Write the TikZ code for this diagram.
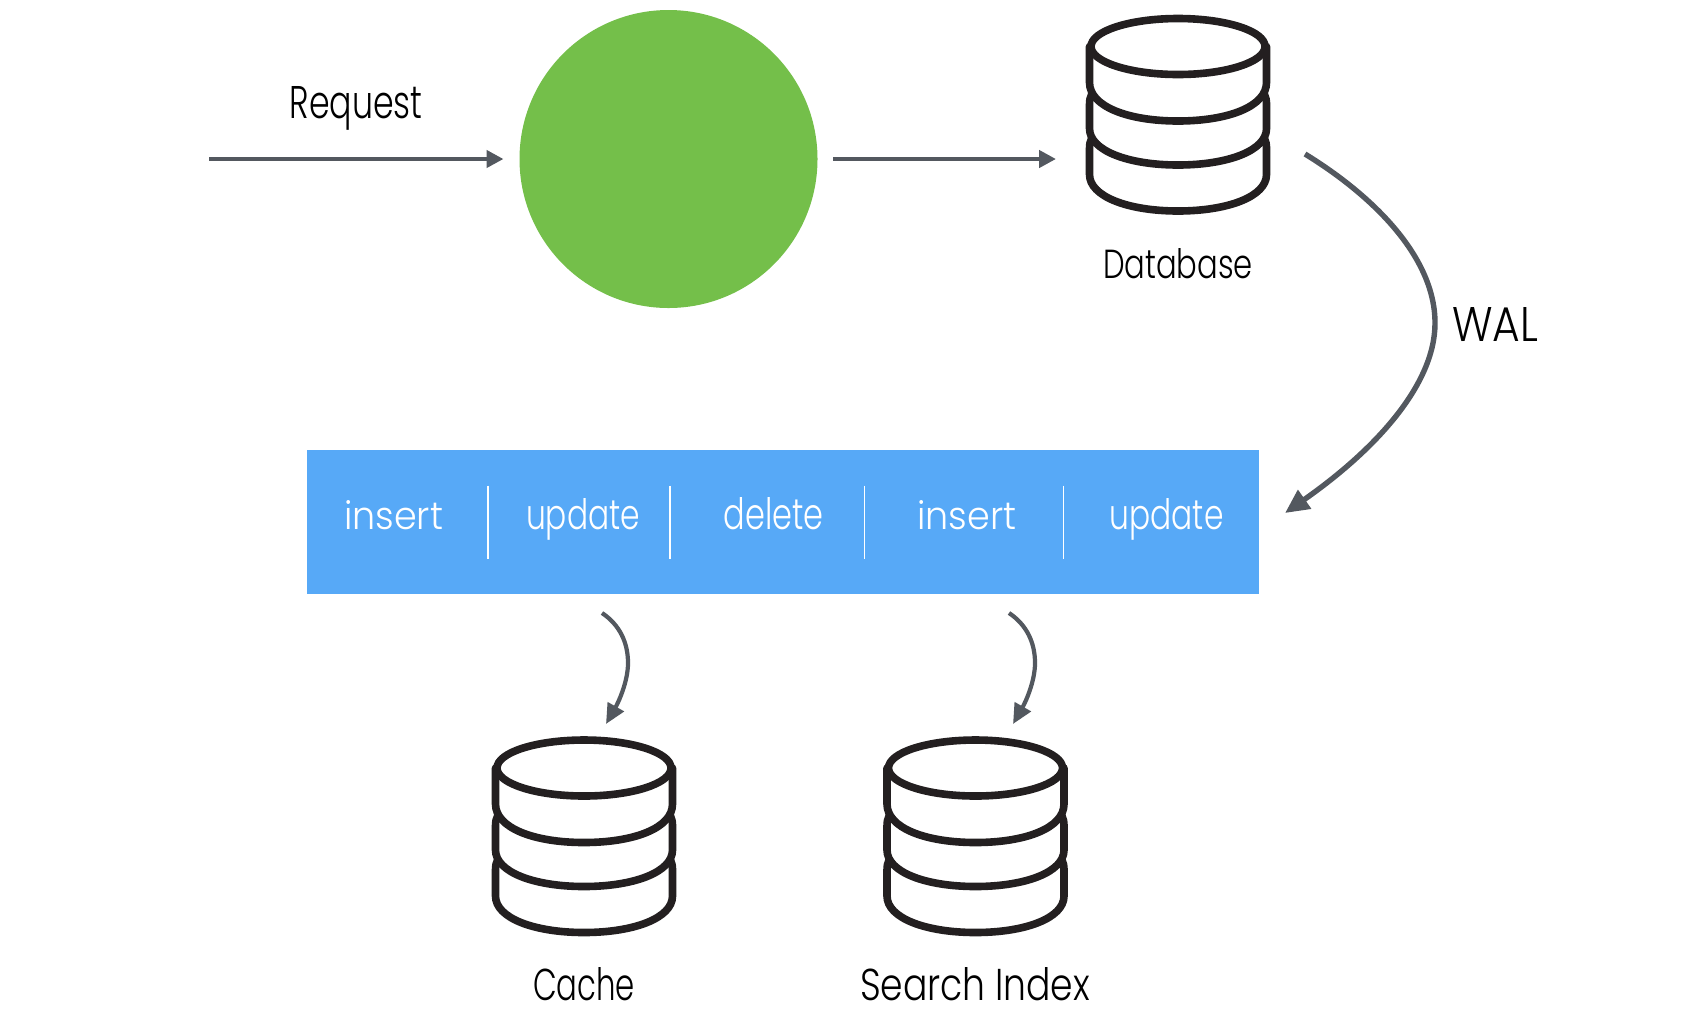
\documentclass[tikz,border=0pt]{standalone}
\usepackage{fontspec}
\usepackage{graphicx}
\setmainfont{Poppins Light}
\usetikzlibrary{arrows.meta,calc}
\definecolor{conncol}{HTML}{53585F}
\definecolor{inkcol}{HTML}{231F20}
\definecolor{greencol}{HTML}{74BF4A}
\definecolor{bluecol}{HTML}{57A9F7}
\newcommand{\fitlab}[3]{\resizebox{#1pt}{#2pt}{#3}}
\tikzset{
  x=0.5pt,y=-0.5pt,
  conn/.style={draw=conncol,line width=2.2pt,-{Triangle[length=8.5pt,width=8.5pt,fill=conncol]}},
  connbig/.style={draw=conncol,line width=2.7pt,-{Triangle[length=12pt,width=11pt,fill=conncol]}},
  connsmall/.style={draw=conncol,line width=2.1pt,-{Triangle[length=10pt,width=9pt,fill=conncol]}},
  lab/.style={inner sep=0pt,outer sep=0pt,anchor=base west,text=black},
  wlab/.style={lab,text=white},
  sep/.style={draw=white,line width=0.6pt},
  dbbox/.style={inner sep=0pt,outer sep=0pt,minimum width=92pt,minimum height=99.5pt},
  cylstroke/.style={draw=inkcol,line width=3.8pt,line join=round,line cap=round},
  cyl/.pic={
    \draw[cylstroke] (0,-68) ellipse [x radius=87,y radius=28];
    \draw[cylstroke] (-88.5,-68) -- (-88.5,-32) .. controls (-88.5,-8) and (-50,6.5) .. (0,6.5)
      .. controls (50,6.5) and (88.5,-8) .. (88.5,-32) -- (88.5,-68);
    \draw[cylstroke] (-86.5,-20) .. controls (-88,-17) and (-88.5,-14) .. (-88.5,-10) -- (-88.5,14)
      .. controls (-88.5,36) and (-50,50.5) .. (0,50.5)
      .. controls (50,50.5) and (88.5,36) .. (88.5,14) -- (88.5,-10)
      .. controls (88.5,-14) and (88,-17) .. (86.5,-20);
    \draw[cylstroke] (-86.5,24) .. controls (-88,27) and (-88.5,30) .. (-88.5,34) -- (-88.5,60)
      .. controls (-88.5,82) and (-50,96.5) .. (0,96.5)
      .. controls (50,96.5) and (88.5,82) .. (88.5,60) -- (88.5,34)
      .. controls (88.5,30) and (88,27) .. (86.5,24);
  }
}
\begin{document}
\begin{tikzpicture}
\useasboundingbox (0,0) rectangle (1700,1030);
% main shapes
\node[circle,fill=greencol,inner sep=0pt,outer sep=0pt,minimum size=149pt] (proc) at (668.5,159) {};
\node[dbbox] (db) at (1178,114.5) {};
\pic at (db.center) {cyl};
\node[dbbox] (cache) at (584,836) {};
\pic at (cache.center) {cyl};
\node[dbbox] (search) at (975.5,836) {};
\pic at (search.center) {cyl};
% log bar
\node[fill=bluecol,inner sep=0pt,outer sep=0pt,minimum width=475.75pt,minimum height=72pt] (log) at (782.75,522) {};
\coordinate (s1a) at (488,485.5); \coordinate (s1b) at (488,559);
\coordinate (s2a) at (670,485.5); \coordinate (s2b) at (670,559);
\coordinate (s3a) at (864.5,485.5); \coordinate (s3b) at (864.5,559);
\coordinate (s4a) at (1063.5,485.5); \coordinate (s4b) at (1063.5,559);
\draw[sep] (s1a) -- (s1b);
\draw[sep] (s2a) -- (s2b);
\draw[sep] (s3a) -- (s3b);
\draw[sep] (s4a) -- (s4b);
\node[wlab] (i1) at (344,529) {\fitlab{49.5}{14.5}{insert}};
\node[wlab] (u1) at (526,529) {\fitlab{57}{15.5}{update}};
\node[wlab] (d1) at (723.5,529) {\fitlab{50}{16}{delete}};
\node[wlab] (i2) at (917.5,529) {\fitlab{49.5}{14.5}{insert}};
\node[wlab] (u2) at (1109.5,529) {\fitlab{57}{15.5}{update}};
% labels
\node[lab] (reqlab) at (289.5,118) {\fitlab{66.5}{16}{Request}};
\node[lab] (dblab) at (1103,278) {\fitlab{75}{15}{Database}};
\node[lab] (wallab) at (1452,341) {\fitlab{43}{17}{WAL}};
\node[lab] (cachelab) at (533,1000) {\fitlab{51}{16.5}{Cache}};
\node[lab] (searchlab) at (860,1000) {\fitlab{115}{16.5}{Search Index}};
% connector ends
\coordinate (reqstart) at (209,159);
\coordinate (walstart) at (1305,154);
\coordinate (walmid) at (1435,323);
\coordinate (walend) at (1285,513);
\coordinate (cstart) at (602,613);
\coordinate (cmid) at (628,663);
\coordinate (cend) at (606,724);
\coordinate (sstart) at (1009,613);
\coordinate (smid) at (1035,663);
\coordinate (send) at (1013,724);
% connectors
\draw[conn,shorten >=8pt] (reqstart) -- (proc);
\draw[conn,shorten <=7.75pt,shorten >=15pt] (proc) -- (db.west |- proc);
\draw[connbig] (walstart) .. controls (1375,197) and (1435,258) .. (walmid)
  .. controls (1435,385) and (1375,450) .. (walend);
\draw[connsmall] (cstart) .. controls (620,625) and (628,643) .. (cmid)
  .. controls (628,682) and (618,703) .. (cend);
\draw[connsmall] (sstart) .. controls (1027,625) and (1035,643) .. (smid)
  .. controls (1035,682) and (1025,703) .. (send);
\end{tikzpicture}
\end{document}
